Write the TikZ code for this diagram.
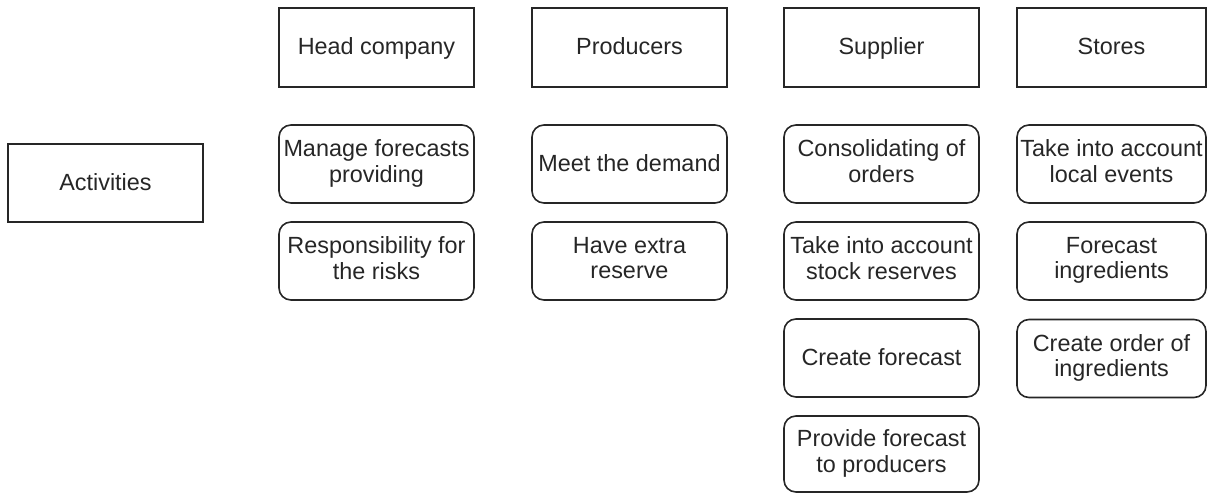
\documentclass[tikz,border=0pt]{standalone}
\usepackage{fontspec}
\setmainfont{Liberation Sans}
% strut that sets where the lines sit inside each box
\newcommand{\capstrut}{\rule[-6pt]{0pt}{26.8pt}}
\begin{document}
\begin{tikzpicture}[x=1pt,y=-1pt,
  box/.style={draw=black!85, line width=1.6pt, inner sep=0pt, align=center,
    text=black!85, font=\fontsize{23.4}{25.5}\selectfont,
    execute at begin node=\capstrut, execute at end node=\capstrut},
  head/.style={box},
  task/.style={box, rounded corners=12pt}]
\useasboundingbox (0,0) rectangle (1208,493);
% row label
\node[head, minimum width=195pt, minimum height=78pt] (act) at (105.5,183) {Activities};
% column headers
\node[head, minimum width=195pt, minimum height=79pt] (hc) at (376.5,47.5) {Head company};
\node[head, minimum width=195pt, minimum height=79pt] (pr) at (629.5,47.5) {Producers};
\node[head, minimum width=195pt, minimum height=79pt] (su) at (881.5,47.5) {Supplier};
\node[head, minimum width=189pt, minimum height=79pt] (st) at (1111.5,47.5) {Stores};
% Head company activities
\node[task, minimum width=195pt, minimum height=78pt] (hc1) at (376.5,164) {Manage forecasts\\providing};
\node[task, minimum width=195pt, minimum height=78pt] (hc2) at (376.5,261) {Responsibility for\\the risks};
% Producers activities
\node[task, minimum width=195pt, minimum height=78pt] (pr1) at (629.5,164) {Meet the demand};
\node[task, minimum width=195pt, minimum height=78pt] (pr2) at (629.5,261) {Have extra\\reserve};
% Supplier activities
\node[task, minimum width=195pt, minimum height=78pt] (su1) at (881.5,164) {Consolidating of\\orders};
\node[task, minimum width=195pt, minimum height=78pt] (su2) at (881.5,261) {Take into account\\stock reserves};
\node[task, minimum width=195pt, minimum height=78pt] (su3) at (881.5,358) {Create forecast};
\node[task, minimum width=195pt, minimum height=76pt] (su4) at (881.5,454) {Provide forecast\\to producers};
% Stores activities
\node[task, minimum width=189pt, minimum height=78pt] (st1) at (1111.5,164) {Take into account\\local events};
\node[task, minimum width=189pt, minimum height=78pt] (st2) at (1111.5,261) {Forecast\\ingredients};
\node[task, minimum width=189pt, minimum height=78pt] (st3) at (1111.5,358.5) {Create order of\\ingredients};
\end{tikzpicture}
\end{document}
